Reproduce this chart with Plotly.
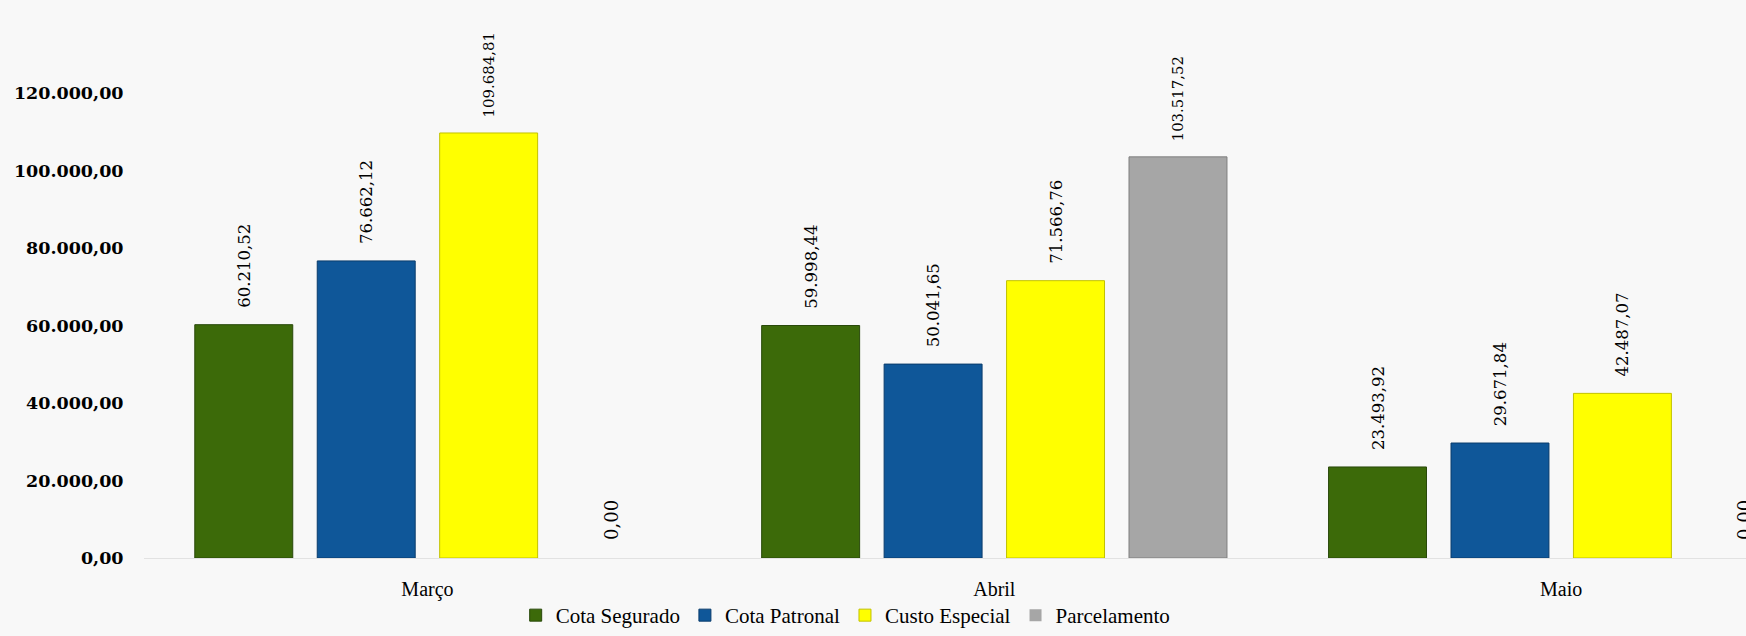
import plotly.graph_objects as go

months = ["Março", "Abril", "Maio"]
cota_segurado = [60210.52, 59998.44, 23493.92]
cota_patronal = [76662.12, 50041.65, 29671.84]
custo_especial = [109684.81, 71566.76, 42487.07]
parcelamento = [0.00, 103517.52, 0.00]

y_tickvals = [0, 20000, 40000, 60000, 80000, 100000, 120000]
y_ticktext = ["0,00", "20.000,00", "40.000,00", "60.000,00", "80.000,00", "100.000,00", "120.000,00"]

series = [
    ("Cota Segurado", cota_segurado, "#3c6a09", "#29490a"),
    ("Cota Patronal", cota_patronal, "#0f5799", "#0a3c6c"),
    ("Custo Especial", custo_especial, "#ffff00", "#c2c200"),
    ("Parcelamento", parcelamento, "#a6a6a6", "#7f7f7f"),
]


def br(v):
    s = f"{v:,.2f}"
    return s.replace(",", "X").replace(".", ",").replace("X", ".")


fig = go.Figure()
for name, vals, color, edge in series:
    fig.add_trace(go.Bar(
        name=name,
        x=months,
        y=vals,
        marker=dict(color=color,
                    line=dict(color=edge, width=[1 if v > 0 else 0 for v in vals])),
        text=["\u00a0\u00a0\u2009" + br(v) for v in vals],
        textposition="outside",
        textangle=-90,
        textfont=dict(family="DejaVu Serif", size=18, color="#000000"),
        cliponaxis=True,
    ))

fig.update_layout(
    width=1746,
    height=636,
    barmode="group",
    bargap=0.136,
    bargroupgap=0.2,
    paper_bgcolor="#f8f8f8",
    plot_bgcolor="#f8f8f8",
    margin=dict(l=144, r=0, t=0, b=78),
    showlegend=True,
    legend=dict(
        orientation="h",
        x=0.438, xanchor="center",
        y=-0.104, yanchor="middle",
        font=dict(family="Liberation Serif", size=21, color="#000000"),
        itemwidth=30,
        bgcolor="rgba(0,0,0,0)",
        traceorder="normal",
    ),
    xaxis=dict(
        range=[-0.5, 2.326],
        showgrid=False,
        zeroline=False,
        showline=False,
        ticks="outside",
        ticklen=13,
        tickcolor="rgba(0,0,0,0)",
        tickfont=dict(family="Liberation Serif", size=20, color="#000000"),
    ),
    yaxis=dict(
        range=[0, 144000],
        tickvals=y_tickvals,
        ticktext=y_ticktext,
        showgrid=False,
        zeroline=True,
        zerolinecolor="#e2e2e2",
        zerolinewidth=1,
        showline=False,
        ticks="outside",
        ticklen=16,
        tickcolor="rgba(0,0,0,0)",
        tickfont=dict(family="DejaVu Serif", size=17.5, color="#000000", weight="bold"),
    ),
)

fig.write_html(
    "out.html",
    config={"displayModeBar": False},
    post_script="document.body.style.margin='0';document.body.style.overflow='hidden';document.body.style.background='#f8f8f8';",
)
